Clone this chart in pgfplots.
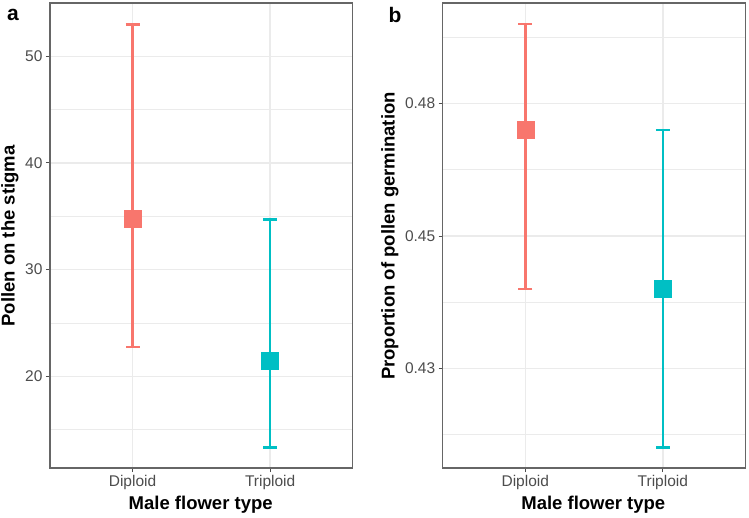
\documentclass[border=0pt]{standalone}
\usepackage{pgfplots}
\pgfplotsset{compat=1.18}
\usepackage{fontspec}
\setmainfont{Liberation Sans}
\definecolor{cdip}{HTML}{F8766D}
\definecolor{ctri}{HTML}{00BFC4}
\definecolor{tickgray}{HTML}{4D4D4D}
\definecolor{gridgray}{HTML}{EBEBEB}
\pgfplotsset{
  panel/.style={
    scale only axis,
    width=302.7pt, height=465pt,
    xmin=0.4, xmax=2.6,
    xtick={1,2}, xticklabels={Diploid,Triploid},
    tick align=outside, tickwidth=4pt,
    xtick pos=bottom, ytick pos=left,
    major tick style={tickgray, line width=1pt},
    minor tick length=0pt,
    grid=both,
    major grid style={gridgray, line width=1.3pt},
    minor grid style={gridgray, line width=0.7pt},
    axis line style={black!60, line width=1.3pt},
    tick label style={font=\fontsize{15.5}{17}\selectfont, text=tickgray},
    /pgf/number format/assume math mode=true,
    clip=false,
  },
  ebar/.style={only marks, mark=none,
    error bars/.cd, y dir=both, y explicit,
    error bar style={line width=2.6pt, color=#1},
    error mark options={rotate=90, mark size=7pt, line width=2.6pt, color=#1}},
  sq/.style={only marks, mark=square*, mark size=8.5pt, color=#1, mark options={fill=#1, draw=#1}},
}
\begin{document}
\begin{tikzpicture}[x=1pt,y=1pt]
\path[use as bounding box] (0,0) rectangle (749,517);
% Panel a
\begin{axis}[panel, at={(50pt,49pt)}, anchor=south west,
  ymin=11.4, ymax=55.0,
  ytick={20,30,40,50}, minor ytick={15,25,35,45,55}]
\addplot+[ebar=cdip] coordinates {(1,34.8) += (0,18.2) -= (0,12.05)};
\addplot+[ebar=ctri] coordinates {(2,21.5) += (0,13.2) -= (0,8.2)};
\addplot[sq=cdip] coordinates {(1,34.8)};
\addplot[sq=ctri] coordinates {(2,21.5)};
\end{axis}
% Panel b
\begin{axis}[panel, at={(442.7pt,49pt)}, anchor=south west,
  ymin=0.4062, ymax=0.4940,
  ytick={0.425,0.45,0.475}, yticklabels={0.43,0.45,0.48},
  minor ytick={0.4125,0.4375,0.4625,0.4875}]
\addplot+[ebar=cdip] coordinates {(1,0.4700) += (0,0.0200) -= (0,0.0300)};
\addplot+[ebar=ctri] coordinates {(2,0.4400) += (0,0.0300) -= (0,0.0299)};
\addplot[sq=cdip] coordinates {(1,0.4700)};
\addplot[sq=ctri] coordinates {(2,0.4400)};
\end{axis}
% titles
\node[font=\fontsize{18.5}{20}\selectfont\bfseries] at (200.7,12) {Male flower type};
\node[font=\fontsize{18.5}{20}\selectfont\bfseries] at (593.3,12) {Male flower type};
\node[font=\fontsize{18.5}{20}\selectfont\bfseries, rotate=90] at (10,281) {Pollen on the stigma};
\node[font=\fontsize{18.5}{20}\selectfont\bfseries, rotate=90] at (390,281) {Proportion of pollen germination};
\node[font=\fontsize{21}{23}\selectfont\bfseries] at (13,502) {a};
\node[font=\fontsize{21}{23}\selectfont\bfseries] at (395,502) {b};
\end{tikzpicture}
\end{document}
